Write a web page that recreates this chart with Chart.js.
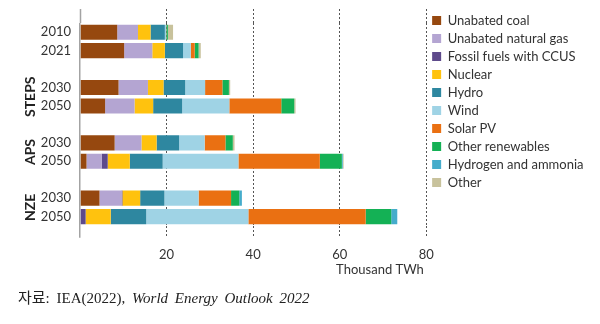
<!DOCTYPE html>
<html>
<head>
<meta charset="utf-8">
<title>Electricity generation by source and scenario</title>
<script src="https://cdn.jsdelivr.net/npm/chart.js@4.4.0/dist/chart.umd.min.js"></script>
<style>
	body { margin: 0; background: #fff; }
	#wrap { position: relative; width: 600px; height: 324px; }
	#note { position: absolute; left: 18px; top: 286px; font: 15px "Liberation Serif", "Noto Sans CJK KR", serif; color: #222; white-space: nowrap; word-spacing: 3px; }
</style>
</head>
<body>
<div id="wrap">
	<canvas id="myChart" width="600" height="324"></canvas>
	<div id="note">자료: IEA(2022), <i>World Energy Outlook 2022</i></div>
</div>
<script type="text/javascript">
	// rows, top to bottom
	const years = ['2010', '2021', '2030', '2050', '2030', '2050', '2030', '2050'];
	const scenarios = ['', '', 'STEPS', 'STEPS', 'APS', 'APS', 'NZE', 'NZE'];

	// thousand TWh, one value per row
	const coal     = [8.6, 10.2, 8.9, 5.8, 8.0, 1.5, 4.5, 0];
	const gas      = [4.8, 6.5, 6.8, 6.8, 6.2, 3.5, 5.1, 0];
	const ccus     = [0, 0, 0, 0, 0, 1.4, 0.2, 1.3];
	const nuclear  = [2.9, 2.9, 3.6, 4.3, 3.5, 5.1, 4.1, 5.8];
	const hydro    = [3.3, 4.2, 5.0, 6.7, 5.2, 7.6, 5.6, 8.2];
	const wind     = [0.3, 1.8, 4.6, 10.9, 5.9, 17.5, 7.9, 23.6];
	const solar    = [0.05, 0.9, 4.0, 12.0, 4.8, 18.8, 7.5, 27.1];
	const otherRen = [0.35, 0.9, 1.5, 3.0, 1.7, 5.1, 1.9, 5.9];
	const hydrogen = [0, 0, 0, 0, 0, 0.2, 0.6, 1.4];
	const other    = [1.2, 0.5, 0.3, 0.3, 0.4, 0.2, 0, 0];

	const xTicks = [0, 20, 40, 60, 80];

	// empty slot between scenario groups
	let labels = [];
	let slotOf = [];
	years.forEach(function (y, i) {
		if (i > 0 && scenarios[i] !== scenarios[i - 1]) labels.push('');
		slotOf.push(labels.length);
		labels.push(y);
	});
	function spread(arr) {
		let out = labels.map(function () { return null; });
		arr.forEach(function (v, i) { out[slotOf[i]] = v; });
		return out;
	}

	const series = [
		['Unabated coal', coal, '#96480F'],
		['Unabated natural gas', gas, '#B4A5D2'],
		['Fossil fuels with CCUS', ccus, '#5E4A8B'],
		['Nuclear', nuclear, '#FFC20E'],
		['Hydro', hydro, '#2E87A0'],
		['Wind', wind, '#9FD3E5'],
		['Solar PV', solar, '#EA7012'],
		['Other renewables', otherRen, '#14B155'],
		['Hydrogen and ammonia', hydrogen, '#45ACCB'],
		['Other', other, '#C8C29C']
	];

	const isZero = function (c) { return c.tick && c.tick.value === 0; };
	const gridColor = function (c) { return isZero(c) ? '#a3a3a3' : '#555'; };
	const gridWidth = function (c) { return isZero(c) ? 1.5 : 1; };
	const gridDash = function (c) { return isZero(c) ? [] : [2, 2]; };
	const setTicks = function (scale) {
		scale.ticks = xTicks.map(function (v) { return { value: v }; });
	};

	// year labels and rotated scenario names, placed with the y scale
	// (the y axis is hidden so the legend may be wider than half the canvas)
	const rowLabels = {
		id: 'rowLabels',
		afterDraw: function (chart) {
			let ctx = chart.ctx;
			let y = chart.scales.y;
			ctx.save();
			ctx.fillStyle = '#333';
			ctx.textAlign = 'right';
			ctx.textBaseline = 'middle';
			ctx.font = '13px Lato';
			years.forEach(function (yr, i) {
				ctx.fillText(yr, 71, y.getPixelForValue(slotOf[i]));
			});
			ctx.font = 'bold 14px Lato';
			ctx.fillStyle = '#222';
			ctx.textAlign = 'center';
			let done = {};
			scenarios.forEach(function (s, i) {
				if (!s || done[s]) return;
				done[s] = true;
				let last = scenarios.lastIndexOf(s);
				let mid = (y.getPixelForValue(slotOf[i]) + y.getPixelForValue(slotOf[last])) / 2;
				ctx.save();
				ctx.translate(30, mid);
				ctx.rotate(-Math.PI / 2);
				ctx.fillText(s, 0, 0);
				ctx.restore();
			});
			ctx.restore();
		}
	};

	function drawChart() {
		let datasets = series.map(function (s) {
			return {
				label: s[0],
				data: spread(s[1]),
				backgroundColor: s[2],
				borderWidth: 0,
				barPercentage: 0.82,
				categoryPercentage: 1.0
			};
		});

		Chart.defaults.font.family = "Lato, sans-serif";
		Chart.defaults.color = '#333';

		let myChart = new Chart(document.getElementById('myChart'), {
			type: 'bar',
			data: { labels: labels, datasets: datasets },
			plugins: [rowLabels],
			options: {
				indexAxis: 'y',
				responsive: false,
				animation: false,
				layout: { padding: { top: 9, right: 6.5, bottom: 46, left: 80 } },
				plugins: {
					tooltip: { enabled: false },
					legend: {
						position: 'right',
						align: 'start',
						labels: { boxWidth: 9, boxHeight: 9, padding: 5, font: { size: 13 } }
					}
				},
				scales: {
					y: {
						type: 'category',
						stacked: true,
						display: false
					},
					x: {
						type: 'linear',
						position: 'bottom',
						stacked: true,
						min: 0,
						max: 80.2,
						afterBuildTicks: setTicks,
						ticks: {
							padding: 9,
							font: { size: 13 },
							callback: function (v) { return v === 0 ? '' : v; }
						},
						grid: {
							color: gridColor,
							lineWidth: gridWidth,
							tickColor: gridColor,
							tickWidth: gridWidth,
							tickLength: 12,
							tickBorderDash: gridDash
						},
						border: { display: false, dash: gridDash },
						title: { display: true, text: 'Thousand TWh ', align: 'end', font: { size: 13 }, padding: { top: -9, bottom: 0 } }
					},
					x2: {
						type: 'linear',
						axis: 'x',
						position: 'top',
						min: 0,
						max: 80.2,
						afterBuildTicks: setTicks,
						ticks: { display: false },
						grid: {
							drawOnChartArea: false,
							tickColor: gridColor,
							tickWidth: gridWidth,
							tickLength: 14,
							tickBorderDash: gridDash
						},
						border: { display: false }
					}
				}
			}
		});
	}

	Promise.all([
		document.fonts.load('13px Lato'),
		document.fonts.load('bold 14px Lato')
	]).then(drawChart, drawChart);
</script>
</body>
</html>
